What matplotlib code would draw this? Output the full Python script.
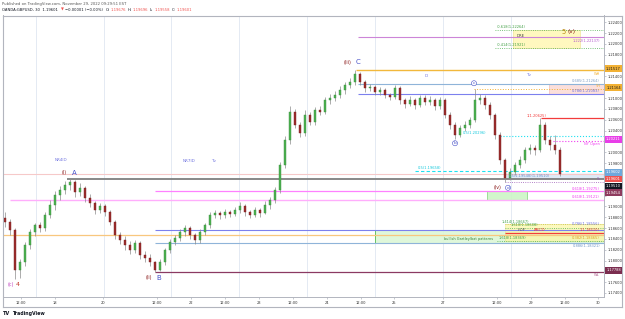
import numpy as np
import matplotlib
matplotlib.use('Agg')
import matplotlib.pyplot as plt
from matplotlib.patches import Rectangle
from matplotlib.lines import Line2D

W, H = 625, 319

# ---------------- data (GBPUSD) ----------------
first_open = 1.1878
closes = [1.1871, 1.1856, 1.1782, 1.1797, 1.1829, 1.1853, 1.1865, 1.1860, 1.1884, 1.1902,
          1.1921, 1.1930, 1.1939, 1.1945, 1.1926, 1.1934, 1.1915, 1.1906, 1.1893, 1.1900,
          1.1889, 1.1871, 1.1847, 1.1838, 1.1829, 1.1819, 1.1832, 1.1810, 1.1805, 1.1797,
          1.1782, 1.1797, 1.1819, 1.1834, 1.1841, 1.1853, 1.1860, 1.1847, 1.1838, 1.1853,
          1.1865, 1.1884, 1.1888, 1.1884, 1.1889, 1.1886, 1.1893, 1.1900, 1.1889, 1.1884,
          1.1893, 1.1888, 1.1902, 1.1912, 1.1930, 1.1976, 1.2022, 1.2074, 1.2050, 1.2035,
          1.2069, 1.2056, 1.2078, 1.2074, 1.2096, 1.2100, 1.2106, 1.2115, 1.2124, 1.2130,
          1.2144, 1.2130, 1.2119, 1.2120, 1.2111, 1.2115, 1.2106, 1.2102, 1.2119, 1.2096,
          1.2089, 1.2096, 1.2087, 1.2100, 1.2093, 1.2096, 1.2085, 1.2096, 1.2069, 1.2050,
          1.2032, 1.2045, 1.2050, 1.2059, 1.2096, 1.2100, 1.2087, 1.2069, 1.2032, 1.1986,
          1.1952, 1.1963, 1.1976, 1.1986, 1.2004, 1.2008, 1.2004, 1.2050, 1.2022, 1.2013,
          1.2004, 1.19601]
highs = [1.1890, 1.1876, 1.1860, 1.1803, 1.1834, 1.1858, 1.1870, 1.1872, 1.1890, 1.1912,
         1.1929, 1.1938, 1.1946, 1.1951, 1.1949, 1.1944, 1.1938, 1.1922, 1.1910, 1.1907,
         1.1904, 1.1893, 1.1875, 1.1852, 1.1845, 1.1836, 1.1838, 1.1836, 1.1818, 1.1812,
         1.1800, 1.1802, 1.1824, 1.1840, 1.1848, 1.1858, 1.1866, 1.1863, 1.1850, 1.1858,
         1.1870, 1.1890, 1.1894, 1.1892, 1.1895, 1.1893, 1.1898, 1.1908, 1.1904, 1.1894,
         1.1899, 1.1897, 1.1910, 1.1918, 1.1936, 1.1982, 1.2030, 1.2085, 1.2080, 1.2056,
         1.2078, 1.2075, 1.2084, 1.2086, 1.2102, 1.2108, 1.2113, 1.2122, 1.2130, 1.2138,
         1.21517, 1.2148, 1.2134, 1.2126, 1.2124, 1.2120, 1.2118, 1.2110, 1.2124, 1.2122,
         1.2100, 1.2104, 1.2101, 1.2106, 1.2105, 1.2103, 1.2100, 1.2102, 1.2100, 1.2074,
         1.2055, 1.2050, 1.2057, 1.2066, 1.21164, 1.2108, 1.2105, 1.2092, 1.2073, 1.2037,
         1.1990, 1.1970, 1.1982, 1.1993, 1.2010, 1.2016, 1.2014, 1.20625, 1.2056, 1.2030,
         1.2032, 1.2010]
lows = [1.1862, 1.1848, 1.1766, 1.1768, 1.1790, 1.1822, 1.1846, 1.1852, 1.1855, 1.1878,
        1.1894, 1.1912, 1.1922, 1.1930, 1.1918, 1.1920, 1.1908, 1.1898, 1.1886, 1.1888,
        1.1882, 1.1866, 1.1840, 1.1830, 1.1820, 1.1812, 1.1814, 1.1803, 1.1798, 1.1790,
        1.17788, 1.1780, 1.1792, 1.1814, 1.1828, 1.1836, 1.1846, 1.1840, 1.1830, 1.1832,
        1.1848, 1.1860, 1.1878, 1.1877, 1.1878, 1.1880, 1.1882, 1.1888, 1.1883, 1.1878,
        1.1880, 1.1880, 1.1885, 1.1896, 1.1906, 1.1925, 1.1970, 1.2015, 1.2044, 1.2028,
        1.2030, 1.2050, 1.2050, 1.2068, 1.2070, 1.2090, 1.2094, 1.2100, 1.2108, 1.2118,
        1.2125, 1.2124, 1.2112, 1.2113, 1.2105, 1.2106, 1.2100, 1.2096, 1.2098, 1.2090,
        1.2082, 1.2085, 1.2080, 1.2083, 1.2087, 1.2088, 1.2078, 1.2080, 1.2063, 1.2043,
        1.2024, 1.2028, 1.2040, 1.2045, 1.2055, 1.2090, 1.2080, 1.2062, 1.2025, 1.1978,
        1.19454, 1.1948, 1.1958, 1.1970, 1.1980, 1.1996, 1.1995, 1.2000, 1.2015, 1.2005,
        1.1996, 1.19558]

time_labels = ['12:00', '18', '20', '12:00', '22', '12:00', '23', '12:00', '24',
               '12:00', '25', '27', '12:00', '29', '12:00', '30']
price_ticks = [1.174, 1.176, 1.178, 1.180, 1.182, 1.184, 1.186, 1.188, 1.190, 1.192,
               1.194, 1.196, 1.198, 1.200, 1.202, 1.204, 1.206, 1.208, 1.210, 1.212,
               1.214, 1.216, 1.218, 1.220, 1.222, 1.224]

# levels
lvl_ext1222 = 1.22137
lvl_m0618 = 1.22264
lvl_m0414 = 1.21921
lvl_wh = 1.21517
lvl_0685 = 1.21264
lvl_yh = 1.21164
lvl_0786t = 1.21083
lvl_1t = 1.20625
lvl_05t = 1.20296
lvl_nyo = 1.20211
lvl_05m = 1.19658
lvl_blue_box = 1.19602
lvl_a = 1.19510
lvl_yl = 1.19454
lvl_0618a = 1.19275
lvl_0618b = 1.19121
lvl_1414 = 1.18667
lvl_1618a = 1.18608
lvl_0786b = 1.18556
lvl_1b = 1.18510
lvl_0382 = 1.18465
lvl_1618b = 1.18369
lvl_0886 = 1.18321
lvl_wl = 1.17788

# ---------------- layout ----------------
fig = plt.figure(figsize=(W / 100, H / 100), dpi=100)
fig.patch.set_facecolor('white')
ax = fig.add_axes([3 / W, 1 - 297 / H, 601 / W, (297 - 15.5) / H])
ax.set_xlim(3, 604)
ax.set_ylim(1.17326, 1.22526)
ax.set_facecolor('white')

def P(xp, yp):
    """pixel position in the image -> data coords"""
    return tuple(ax.transData.inverted().transform((xp, H - yp)))

def fx(p):
    return p / W

def fy(p):
    return 1 - p / H

def ypix_of(price):
    return H - ax.transData.transform((0, price))[1]

# grid
grid_px = [35.5, 103.6, 171, 239, 307, 375, 443, 511]
for g in grid_px:
    ax.axvline(g, color='#e4eaf3', lw=0.7, zorder=0)

# candles
n = len(closes)
opens = np.array([first_open] + closes[:-1])
c = np.array(closes)
hi = np.array(highs)
lo = np.array(lows)
xs = 5 + 5 * np.arange(n)
up = c >= opens
ax.vlines(xs, lo, hi, color='#8c8c8c', lw=0.5, zorder=3)
body_bottom = np.minimum(opens, c)
body_h = np.maximum(np.abs(c - opens), 0.00008)
ax.bar(xs[up], body_h[up], bottom=body_bottom[up], width=2.6, color='#4cb050',
       edgecolor='#3d8f40', linewidth=0.3, zorder=4)
ax.bar(xs[~up], body_h[~up], bottom=body_bottom[~up], width=2.6, color='#9b2c2c',
       edgecolor='#7a2020', linewidth=0.3, zorder=4)

X_END = 604

def hl(price, x0, color, lw=0.8, ls='-', z=2):
    ax.hlines(price, x0, X_END, colors=color, linewidth=lw, linestyles=ls, zorder=z)

def band(p1, p2, x0, x1, fc, ec, alpha=1.0, lw=0.5):
    ax.add_patch(Rectangle((x0, min(p1, p2)), x1 - x0, abs(p1 - p2), facecolor=fc,
                           edgecolor=ec, linewidth=lw, alpha=alpha, zorder=1))

FS = 2.6

def lab(xp, price, text, color, ha='left', dy=0.6, fs=FS, va='bottom'):
    ax.annotate(text, (xp, price), xytext=(0, dy), textcoords='offset points', ha=ha, va=va,
                fontsize=fs, color=color, zorder=8, annotation_clip=False)

# bands
band(lvl_m0618, lvl_m0414, 513, 580, '#fff7b0', '#ece08a', alpha=0.8)
band(lvl_0685, lvl_0786t, 549, X_END, '#fbdcd8', '#f1aaa2', alpha=0.9, lw=0.4)
band(lvl_0786b, lvl_0886, 375, X_END, '#dcf7d6', '#5cbf58', alpha=0.9, lw=0.7)
band(lvl_1414, lvl_1618b, 505, X_END, '#fbf8a8', '#e8e07a', alpha=0.75, lw=0.4)
band(lvl_0618a, lvl_0618b, 487, 527, '#ccf5c6', '#71cf6c', alpha=0.9, lw=0.5)
band(closes[-1], lvl_a, 507, X_END, '#dce8f6', '#b9cfe9', alpha=0.9, lw=0.3)

# lines
hl(lvl_ext1222, 358, '#cc85d8', 0.8)
hl(lvl_m0618, 495, '#4caf50', 0.6, ':')
hl(lvl_m0414, 495, '#4caf50', 0.6, ':')
hl(lvl_wh, 356, '#f2b83c', 1.0)
hl(lvl_0685, 358, '#8fb4d9', 0.8)
hl(lvl_yh, 474, '#f2b134', 0.7, ':')
hl(lvl_0786t, 358, '#7c80ee', 0.8)
hl(lvl_1t, 541, '#f23c3c', 0.9)
hl(lvl_05t, 500, '#1ee0f0', 0.8, ':')
hl(lvl_nyo, 553, '#f03cf0', 0.8, ':')
hl(lvl_05m, 415, '#1ee0f0', 0.8, (0, (3, 2)))
hl(closes[-1], 3, '#f6c9c9', 0.8)
hl(lvl_a, 67, '#7f7f7f', 1.3)
hl(lvl_yl, 505, '#9b59b6', 0.6, ':')
hl(lvl_0618a, 155, '#ff80ff', 0.9)
hl(lvl_0618b, 10, '#ffaefc', 1.0)
hl(lvl_1414, 505, '#c8c03a', 0.6, ':')
hl(lvl_1618a, 505, '#4caf50', 0.6, ':')
hl(lvl_0786b, 155, '#7c80ee', 0.8)
hl(lvl_1b, 505, '#f23c3c', 0.9)
hl(lvl_0382, 3, '#f8c77e', 0.9)
hl(lvl_1618b, 497, '#4caf50', 0.6, ':')
hl(lvl_0886, 155, '#8fb4d9', 0.8)
hl(lvl_wl, 155, '#8b3a62', 0.9)

# level labels
lab(600, lvl_ext1222, '1.222(1.22137)', '#b45ccc', ha='right', dy=-1.4, va='top')
lab(497, lvl_m0618, '-0.618(1.22264)', '#43a047')
lab(497, lvl_m0414, '-0.414(1.21921)', '#43a047')
lab(600, lvl_wh, 'WH', '#f2b134', ha='right', dy=-1.0, va='top')
lab(600, lvl_0685, '0.685(1.21264)', '#7f9fc6', ha='right')
lab(600, lvl_yh, 'YH', '#f2b134', ha='right')
lab(600, lvl_0786t, '0.786(1.21083)', '#6f73e0', ha='right')
lab(527, lvl_1t, '1(1.20625)', '#f23c3c')
lab(463, lvl_05t, '0.5(1.20296)', '#12c8dc')
lab(600, lvl_nyo, 'NY Open', '#f03cf0', ha='right', dy=-1.0, va='top')
lab(418, lvl_05m, '0.5(1.19658)', '#12c8dc')
lab(509, lvl_a, '0.5(1.19548)(1.19510)', '#6b8fc8', dy=0.2)
lab(600, lvl_yl, 'YL', '#9b59b6', ha='right')
lab(600, lvl_0618a, '0.618(1.19275)', '#f03cf0', ha='right')
lab(600, lvl_0618b, '0.618(1.19121)', '#f03cf0', ha='right')
lab(502, lvl_1414, '1.414(1.18667)', '#43a047')
lab(511, lvl_1618a, '1.618(1.18608)', '#43a047')
lab(600, lvl_0786b, '0.786(1.18556)', '#6f73e0', ha='right', dy=3.2)
lab(600, lvl_1b, '1(1.18510)', '#f23c3c', ha='right', dy=0.4)
lab(600, lvl_0382, '0.382(1.18465)', '#e0a020', ha='right', dy=-0.2, va='top')
lab(600, lvl_0886, '0.886(1.18321)', '#6f96c6', ha='right', dy=-0.5, va='top')
lab(499, lvl_1618b, '1.618(1.18369)', '#43a047')
lab(600, lvl_wl, 'WL', '#b06090', ha='right', dy=-1.0, va='top')
lab(518, lvl_1b, 'HOP', '#555555', dy=0.3)
lab(534, lvl_1b, 'ABCD', '#f23c3c', dy=0.3, fs=3.0)
ax.text(*P(444, 239), 'bullish Gartley/bat patterns', fontsize=2.5, color='#2e7d32',
        va='center', zorder=8)
ax.text(*P(517, 36), 'DRE', fontsize=2.8, color='#444444', va='center', zorder=8)

# session labels
for (xp, yp, t) in [(55, 160, 'NR4ID'), (183, 161, 'NR7ID'), (211, 161, 'Tv'),
                    (425, 76, 'ID'), (526, 75, 'Tv')]:
    ax.text(*P(xp, yp), t, fontsize=3.0, color='#6f73e0', va='center', zorder=8)

# wave labels (anchored to swing candles)
RED = '#8b1a1a'
BLUE = '#4650c8'

def wave(i, where, parts, dy_px):
    yref = highs[i] if where == 'high' else lows[i]
    for text, col, fs, dx_px, circ in parts:
        kw = {}
        if circ:
            kw['bbox'] = dict(boxstyle='circle,pad=0.12', fc='white', ec=col, lw=0.4)
        ax.annotate(text, (xs[i], yref), xytext=(dx_px * 0.72, dy_px * 0.72),
                    textcoords='offset points', ha='center', va='center', fontsize=fs,
                    color=col, zorder=9, annotation_clip=False, **kw)

wave(2, 'low', [('(c)', '#c040c0', 3.4, -4, False), ('4', '#c0392b', 4.6, 3, False)], -6)
wave(13, 'high', [('(i)', RED, 3.4, -6, False), ('A', BLUE, 5.0, 4, False)], 6)
wave(30, 'low', [('(ii)', RED, 3.4, -6, False), ('B', BLUE, 5.0, 4, False)], -6)
wave(70, 'high', [('(iii)', RED, 3.4, -7, False), ('C', BLUE, 5.0, 3, False)], 8)
wave(100, 'low', [('(iv)', RED, 3.4, -7, False), ('d', BLUE, 3.2, 3, True)], -6)
wave(90, 'low', [('b', BLUE, 3.2, 0, True)], -4)
wave(94, 'high', [('c', BLUE, 3.2, -1, True)], 6)
ax.text(*P(561, 32), '5', fontsize=4.8, color='#b8860b', va='center', zorder=9)
ax.text(*P(568, 32), '(v)', fontsize=4.2, color=RED, va='center', zorder=9)

# price boxes on the scale (stacked like TradingView so they do not overlap)
boxes = [(lvl_wh, '#f2b134', '#1a1a1a'), (lvl_yh, '#f2b134', '#1a1a1a'),
         (lvl_nyo, '#e83ee8', 'white'), (lvl_blue_box, '#6fa8dc', 'white'),
         (closes[-1], '#ef5350', 'white'), (lvl_a, '#131722', 'white'),
         (lvl_yl, '#8e3b5e', 'white'), (lvl_wl, '#7b2d4f', 'white')]
boxes = sorted(boxes, key=lambda b: -b[0])
box_pix = []
prev = -100
for price, fc, tc in boxes:
    yp = max(ypix_of(price) - 1.5, prev + 6.8)
    prev = yp
    box_pix.append(yp)
    fig.add_artist(Rectangle((fx(605), fy(yp + 3.3)), 17 / W, 6.6 / H,
                             transform=fig.transFigure, facecolor=fc, edgecolor='none',
                             zorder=5))
    fig.text(fx(613.5), fy(yp), '%.5f' % price, fontsize=2.6, color=tc,
             ha='center', va='center', zorder=6)

# axes styling; scale labels hidden where a price box covers them
ax.set_xticks([20.7, 55, 103, 157, 191, 225, 259, 293, 327, 361, 394, 443, 497, 531, 565, 598])
ax.set_xticklabels(time_labels)
ax.yaxis.tick_right()
ax.set_yticks(price_ticks)
ylabels = []
for v in price_ticks:
    yp = ypix_of(v)
    covered = any(abs(yp - b) < 6.8 for b in box_pix)
    ylabels.append('' if covered else '%.5f' % v)
ax.set_yticklabels(ylabels)
ax.tick_params(axis='both', labelsize=2.6, colors='#9aa0ab', labelcolor='#333333',
               length=1.5, width=0.4, pad=1.2)
for s in ax.spines.values():
    s.set_color('#b2b5be')
    s.set_linewidth(0.7)

# outer frame
frame_c = '#b2b5be'
fig.add_artist(Line2D([fx(3), fx(622)], [fy(15.5), fy(15.5)], color=frame_c, lw=0.8))
fig.add_artist(Line2D([fx(3), fx(622)], [fy(307), fy(307)], color=frame_c, lw=0.8))
fig.add_artist(Line2D([fx(622), fx(622)], [fy(15.5), fy(307)], color=frame_c, lw=0.8))
fig.add_artist(Line2D([fx(3), fx(3)], [fy(15.5), fy(307)], color=frame_c, lw=0.8))

# header
fig.text(fx(2), fy(3.6), 'Published on TradingView.com, November 29, 2022 09:29:51 EST',
         fontsize=2.7, color='#555555', va='center')
RD = '#ef5350'
for t, xp, col in [('OANDA:GBPUSD, 30  1.19601', 2, '#131722'), ('\u25bc', 61, RD),
                   ('\u22120.00001 (\u22120.00%)', 65, '#131722'), ('O:', 106, '#131722'),
                   ('1.19676', 111, RD), ('H:', 128, '#131722'), ('1.19696', 133, RD),
                   ('L:', 150, '#131722'), ('1.19558', 154.5, RD), ('C:', 171.5, '#131722'),
                   ('1.19601', 176.5, RD)]:
    fig.text(fx(xp), fy(9.6), t, fontsize=2.7, color=col, va='center')

# footer logo
fig.text(fx(3), fy(313.5), 'TV', fontsize=3.6, weight='bold', color='#131722', va='center')
fig.text(fx(12), fy(313.5), 'TradingView', fontsize=3.4, weight='bold', color='#131722',
         va='center')

fig.savefig('out.png', dpi=100, facecolor='white')
